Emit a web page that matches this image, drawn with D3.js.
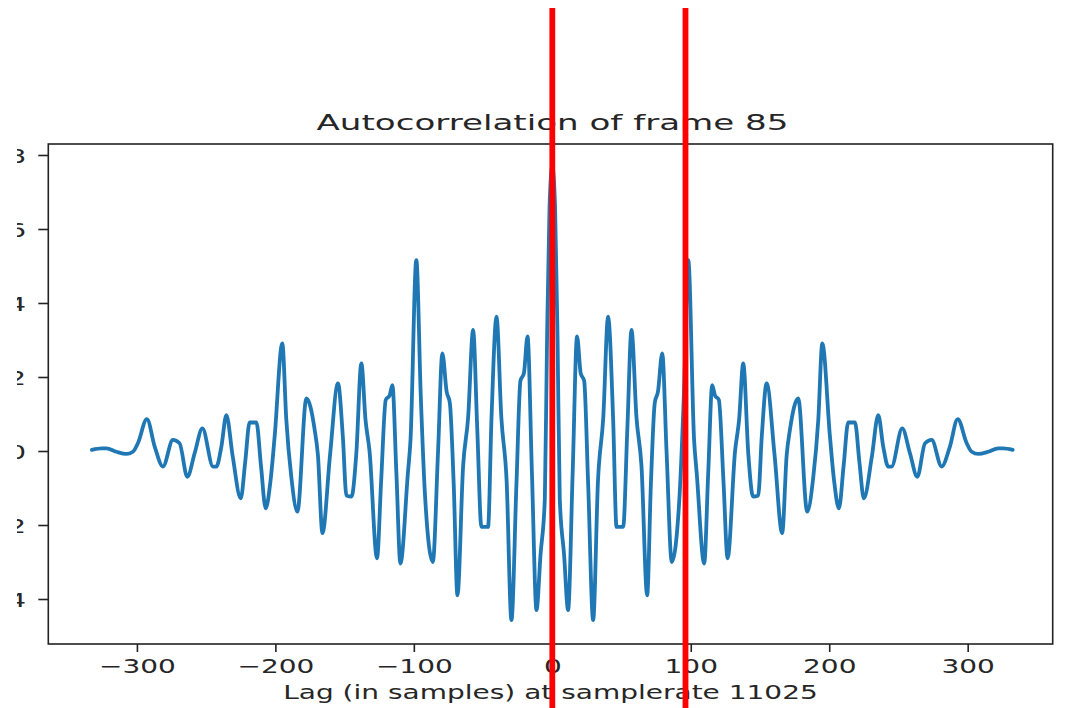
<!DOCTYPE html>
<html>
<head>
<meta charset="utf-8">
<script src="https://cdn.jsdelivr.net/npm/d3@7"></script>
<style>
  html, body { margin: 0; padding: 0; background: #fff; }
  svg { display: block; }
  text { font-family: "DejaVu Sans", sans-serif; fill: #262626; }
</style>
</head>
<body>
<svg id="chart" width="1067" height="708"></svg>
<script>
// ---- data (lag in samples, autocorrelation value) ----
const lags = [
  -332.5, -325.6, -322, -314.9, -307.7, -302.9, -299.3, -292.8, -287, -281.2,
  -274, -269.2, -263.6, -258.3, -252.7, -245, -242.6, -239, -235.4, -230.8,
  -225, -221.8, -218.6, -213.7, -210.4, -207, -203.5, -200.5, -195, -192.1,
  -188.5, -184.1, -177.6, -171.6, -169.3, -166, -160.5, -154.8, -151.3, -148.7,
  -145, -141.6, -137.9, -134.9, -132, -126.6, -123.6, -120.3, -117.5, -115.5,
  -112.6, -109.7, -104.3, -102.4, -98.2, -95, -92, -86.3, -82.5, -79.4,
  -76.3, -74, -71.2, -68.5, -64.4, -60.8, -57.2, -54.2, -51.2, -46.4,
  -43.9, -40.3, -36.8, -33, -29.5, -25.9, -23, -20.5, -17.9, -14.7,
  -11.4, -8.5, -5.4, -3.8, -2, 0,
  2, 3.8, 5.4, 8.5, 11.4,
  14.7, 17.9, 20.5, 23, 25.9, 29.5, 33, 36.8, 40.3, 43.9,
  46.4, 51.2, 54.2, 57.2, 60.8, 64.4, 68.5, 71.2, 74, 76.3,
  79.4, 82.5, 86.3, 92, 95, 98.2, 102.4, 104.3, 109.7, 112.6,
  115.5, 117.5, 120.3, 123.6, 126.6, 132, 134.9, 137.9, 141.6, 145,
  148.7, 151.3, 154.8, 160.5, 166, 169.3, 171.6, 177.6, 184.1, 188.5,
  192.1, 195, 200.5, 203.5, 207, 210.4, 213.7, 218.6, 221.8, 225,
  230.8, 235.4, 239, 242.6, 245, 252.7, 258.3, 263.6, 269.2, 274,
  281.2, 287, 292.8, 299.3, 302.9, 307.7, 314.9, 322, 325.6, 332.5
];
const acf = [
  0.003, 0.007, 0.007, -0.002, -0.008, -0.002, 0.021, 0.086, 0.01, -0.042,
  0.03, 0.021, -0.07, -0.006, 0.061, -0.042, -0.042, 0.012, 0.097, -0.015,
  -0.128, -0.03, 0.077, 0.077, -0.04, -0.155, -0.08, 0.04, 0.291, 0.084,
  -0.07, -0.164, 0.142, 0.057, -0.01, -0.222, -0.01, 0.183, 0.04, -0.12,
  -0.123, -0.01, 0.237, 0.084, 0.0, -0.29, -0.08, 0.138, 0.15, 0.178,
  -0.06, -0.304, -0.06, 0.03, 0.516, 0.15, -0.115, -0.30, 0.0, 0.264,
  0.16, 0.13, -0.09, -0.39, -0.04, 0.09, 0.327, 0.06, -0.205, -0.205,
  0.09, 0.363, 0.09, -0.08, -0.457, -0.09, 0.19, 0.21, 0.31, -0.06,
  -0.43, -0.28, -0.13, 0.30, 0.66, 0.77,
  0.66, 0.30, -0.13, -0.28, -0.43,
  -0.06, 0.31, 0.21, 0.19, -0.09, -0.457, -0.08, 0.09, 0.363, 0.09,
  -0.205, -0.205, 0.06, 0.327, 0.09, -0.04, -0.39, -0.09, 0.13, 0.16,
  0.264, 0.0, -0.30, -0.115, 0.15, 0.516, 0.03, -0.06, -0.304, -0.06,
  0.178, 0.15, 0.138, -0.08, -0.29, 0.0, 0.084, 0.237, -0.01, -0.123,
  -0.12, 0.04, 0.183, -0.01, -0.222, -0.01, 0.057, 0.142, -0.164, -0.07,
  0.084, 0.291, 0.04, -0.08, -0.155, -0.04, 0.077, 0.077, -0.03, -0.128,
  -0.015, 0.097, 0.012, -0.042, -0.042, 0.061, -0.006, -0.07, 0.021, 0.03,
  -0.042, 0.01, 0.086, 0.021, -0.002, -0.008, -0.002, 0.007, 0.007, 0.003
];
const xTicks = [-300, -200, -100, 0, 100, 200, 300];
const yTicks = [-0.4, -0.2, 0.0, 0.2, 0.4, 0.6, 0.8];
const markerLags = [0, 96.2];   // red vertical markers drawn over the figure
const titleText = "Autocorrelation of frame 85";
const xLabelText = "Lag (in samples) at samplerate 11025";

// ---- layout ----
const W = 1067, H = 708;
const plot = { left: 48.3, right: 1052.7, top: 144, bottom: 644 };
const SX_SMALL = 1.4, SX_TITLE = 1.55;

const svg = d3.select("#chart");
svg.append("rect").attr("width", W).attr("height", H).attr("fill", "#fff");

const x = d3.scaleLinear().domain([-364, 361.4]).range([plot.left, plot.right]);
const y = d3.scaleLinear().domain([-0.5216, 0.8297]).range([plot.bottom, plot.top]);

// line
const data = lags.map((l, i) => [l, acf[i]]);
const line = d3.line().x(d => x(d[0])).y(d => y(d[1])).curve(d3.curveMonotoneX);
svg.append("path")
  .datum(data)
  .attr("d", line)
  .attr("fill", "none")
  .attr("stroke", "#1f77b4")
  .attr("stroke-width", 3.8)
  .attr("stroke-linejoin", "round")
  .attr("stroke-linecap", "round");

// frame
svg.append("rect")
  .attr("x", plot.left).attr("y", plot.top)
  .attr("width", plot.right - plot.left).attr("height", plot.bottom - plot.top)
  .attr("fill", "none").attr("stroke", "#222").attr("stroke-width", 1.6);

// x axis
const xAxis = d3.axisBottom(x).tickValues(xTicks).tickSize(8).tickPadding(0).tickFormat(d3.format("d"));
const gx = svg.append("g").attr("transform", `translate(0,${plot.bottom})`).call(xAxis);
gx.select(".domain").remove();
gx.selectAll(".tick line").attr("stroke", "#222").attr("stroke-width", 1.6);
gx.selectAll(".tick text")
  .attr("y", 0).attr("dy", null)
  .attr("transform", `translate(0,29) scale(${SX_SMALL},1)`)
  .attr("font-size", 20).attr("font-family", "DejaVu Sans").attr("fill", "#262626");

// y axis (labels clipped on the left as in the reference)
svg.append("clipPath").attr("id", "yclip")
  .append("rect").attr("x", 17).attr("y", 0).attr("width", W).attr("height", H);
const yAxis = d3.axisLeft(y).tickValues(yTicks).tickSize(10).tickPadding(0).tickFormat(d3.format(".1f"));
const gy = svg.append("g").attr("transform", `translate(${plot.left},0)`).call(yAxis);
gy.select(".domain").remove();
gy.selectAll(".tick line").attr("stroke", "#222").attr("stroke-width", 1.6);
gy.selectAll(".tick text")
  .attr("x", 0).attr("dy", "0.36em")
  .attr("transform", `translate(${26 - plot.left},0) scale(${SX_SMALL},1)`)
  .attr("font-size", 20).attr("font-family", "DejaVu Sans").attr("fill", "#262626");
gy.attr("clip-path", null);
const gyWrap = svg.append("g").attr("clip-path", "url(#yclip)");
gyWrap.node().appendChild(gy.node());

// title
svg.append("text")
  .attr("transform", `translate(${(plot.left + plot.right) / 2 + 2},130) scale(${SX_TITLE},1)`)
  .attr("text-anchor", "middle")
  .attr("font-size", 22)
  .text(titleText);

// x label
svg.append("text")
  .attr("transform", `translate(${(plot.left + plot.right) / 2},699) scale(${SX_SMALL},1)`)
  .attr("text-anchor", "middle")
  .attr("font-size", 20)
  .text(xLabelText);

// red markers
svg.selectAll("line.marker")
  .data(markerLags)
  .enter().append("line")
  .attr("class", "marker")
  .attr("x1", d => x(d)).attr("x2", d => x(d))
  .attr("y1", 8).attr("y2", H)
  .attr("stroke", "#ff0000")
  .attr("stroke-width", 5.8);
</script>
</body>
</html>
